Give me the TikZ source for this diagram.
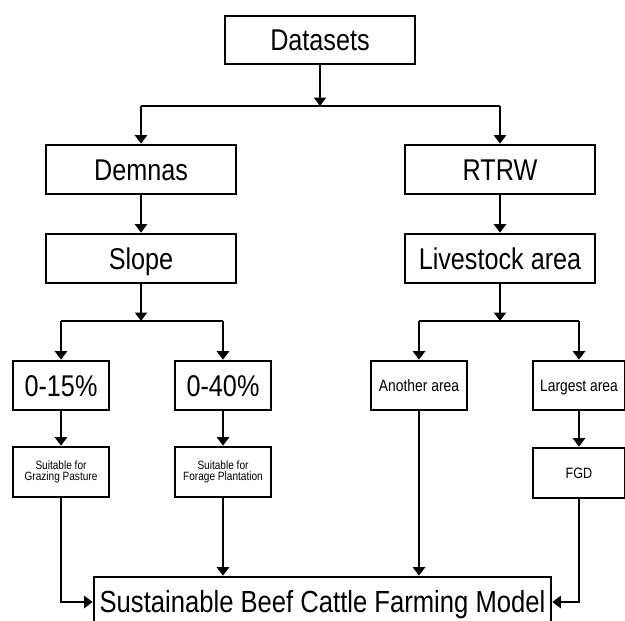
\documentclass[tikz,border=0pt]{standalone}
\usepackage{fontspec}
\setmainfont[FakeStretch=0.84]{Liberation Sans}
\usetikzlibrary{arrows.meta}
\begin{document}
\begin{tikzpicture}[x=1pt,y=-1pt,
  box/.style={draw,line width=2.6pt,inner sep=0pt,minimum height=49pt},
  big/.style={font=\fontsize{30}{36}\selectfont,text height=21.5pt,text depth=0pt},
  mid/.style={font=\fontsize{16.5}{19}\selectfont,text height=11.8pt,text depth=0pt},
  small/.style={font=\fontsize{12}{10.5}\selectfont,align=center},
  ln/.style={line width=2.6pt},
  arr/.style={line width=2.6pt,-{Triangle[width=12pt,length=8.5pt]}}]
\useasboundingbox (0,0) rectangle (625,621);
\clip (0,0) rectangle (625,621);
% nodes
\node[box,big,minimum width=190pt,minimum height=48pt] (ds) at (320,40) {Datasets};
\node[box,big,minimum width=190pt] (dm) at (141,169.5) {Demnas};
\node[box,big,minimum width=190pt] (rt) at (500,169.5) {RTRW};
\node[box,big,minimum width=190pt] (sl) at (141,258.5) {Slope};
\node[box,big,minimum width=190pt] (la) at (500,258.5) {Livestock area};
\node[box,big,minimum width=96pt] (p15) at (61,385.5) {0-15\%};
\node[box,big,minimum width=96pt] (p40) at (223,385.5) {0-40\%};
\node[box,mid,minimum width=96pt] (an) at (419,385.5) {Another area};
\node[box,mid,minimum width=92pt] (lg) at (579,385.5) {Largest area};
\node[box,small,minimum width=96pt,minimum height=50pt] (gz) at (61,472) {Suitable for\\Grazing Pasture};
\node[box,small,minimum width=96pt,minimum height=50pt] (fp) at (223,472) {Suitable for\\Forage Plantation};
\node[box,font=\fontsize{15}{18}\selectfont,text height=10.7pt,text depth=0pt,minimum width=92pt,minimum height=50pt] (fgd) at (579,473) {FGD};
\node[box,font=\fontsize{30.5}{37}\selectfont,text height=21.8pt,text depth=0pt,minimum width=457pt,minimum height=50pt] (sus) at (322.5,602) {Sustainable Beef Cattle Farming Model};
% junction coordinates
\coordinate (j1) at (320,106);
\coordinate (j2) at (141,321);
\coordinate (j3) at (500,321);
% connectors
\draw[arr] (ds) -- (j1);
\draw[ln] (dm |- j1) -- (rt |- j1);
\draw[arr] (dm |- j1) -- (dm);
\draw[arr] (rt |- j1) -- (rt);
\draw[arr] (dm) -- (sl);
\draw[arr] (rt) -- (la);
\draw[arr] (sl) -- (j2);
\draw[arr] (la) -- (j3);
\draw[ln] (p15 |- j2) -- (p40 |- j2);
\draw[ln] (an |- j3) -- (lg |- j3);
\draw[arr] (p15 |- j2) -- (p15);
\draw[arr] (p40 |- j2) -- (p40);
\draw[arr] (an |- j3) -- (an);
\draw[arr] (lg |- j3) -- (lg);
\draw[arr] (p15) -- (gz);
\draw[arr] (p40) -- (fp);
\draw[arr] (lg) -- (fgd);
\draw[arr] (gz) |- (sus);
\draw[arr] (fgd) |- (sus);
\draw[arr] (fp) -- (fp |- sus.north);
\draw[arr] (an) -- (an |- sus.north);
\end{tikzpicture}
\end{document}
